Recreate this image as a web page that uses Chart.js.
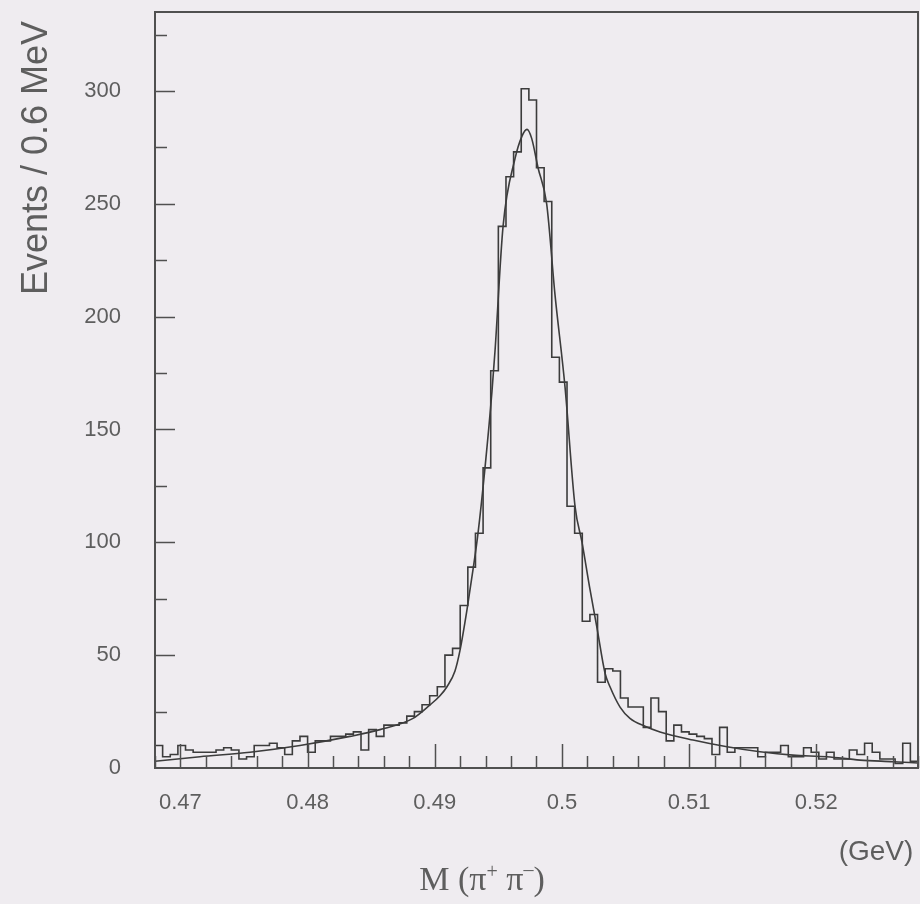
<!DOCTYPE html>
<html>
<head>
<meta charset="utf-8">
<script src="https://cdn.jsdelivr.net/npm/chart.js@4.4.1/dist/chart.umd.min.js"></script>
<style>
  html, body { margin: 0; padding: 0; background: #efecf0; }
  #wrap { width: 920px; height: 904px; position: relative; }
</style>
</head>
<body>
<div id="wrap"><canvas id="chart"></canvas></div>
<script>
// M(pi+ pi-) histogram, 0.6 MeV bins from 0.468 to 0.528 GeV
const binStart = 0.468;
const binWidth = 0.0006;
const counts = [
  10, 5, 6, 10, 8, 7, 7, 7, 8, 9,
  8, 4, 5, 10, 10, 11, 9, 6, 12, 14,
  7, 12, 12, 14, 14, 15, 16, 8, 17, 14,
  19, 19, 20, 23, 25, 28, 32, 36, 50, 53,
  72, 89, 104, 133, 176, 240, 262, 273, 301, 296,
  266, 251, 182, 171, 116, 104, 65, 68, 38, 44,
  43, 31, 27, 27, 18, 31, 25, 12, 19, 16,
  15, 14, 13, 6, 18, 7, 9, 9, 9, 5,
  7, 7, 10, 5, 5, 9, 7, 4, 7, 4,
  4, 8, 6, 11, 7, 4, 4, 2, 11, 3
];

// fitted curve
const fitMass = [
  0.4680, 0.47154, 0.47547, 0.47940, 0.48333, 0.48569, 0.48829, 0.48963,
  0.49041, 0.49096, 0.49159, 0.49198, 0.49253, 0.49301, 0.49340, 0.49395,
  0.49450, 0.49474, 0.49537, 0.49631, 0.49686, 0.49725, 0.49762, 0.49812,
  0.49880, 0.49945, 0.50024, 0.50103, 0.50158, 0.50221, 0.50276, 0.50339,
  0.50378, 0.50457, 0.50535, 0.50653, 0.50771, 0.51031, 0.51298, 0.51558,
  0.51817, 0.52084, 0.52344, 0.52603, 0.52800
];
const fitValue = [
  3, 5, 7, 10, 14, 17, 22, 28,
  32, 36, 43, 52, 70, 88, 104, 133,
  167, 185, 240, 270, 280, 283, 279, 266,
  250, 210, 169, 116, 100, 79, 62, 42,
  36, 27, 22, 18.5, 16, 12.4, 9.4, 7.2,
  5.7, 5, 3.5, 2.8, 2.2
];

const xTicks = [0.47, 0.48, 0.49, 0.50, 0.51, 0.52];
const yTicks = [0, 50, 100, 150, 200, 250, 300];

const xMin = binStart;
const xMax = binStart + counts.length * binWidth;
const yMax = 335;

// histogram as step line over bin edges
const histPoints = counts.map((c, i) => ({ x: binStart + i * binWidth, y: c }));
histPoints.push({ x: xMax, y: counts[counts.length - 1] });

const fitPoints = fitMass.map((m, i) => ({ x: m, y: fitValue[i] }));

const ink = '#3c3c3c';
const textGrey = '#5e5e5e';

// frame, inward ticks and axis titles
const framePlugin = {
  id: 'frame',
  afterDraw(chart) {
    const { ctx, chartArea: a, scales: { x, y } } = chart;
    ctx.save();
    ctx.strokeStyle = '#505050';
    ctx.lineWidth = 2;
    ctx.strokeRect(a.left, a.top, a.right - a.left, a.bottom - a.top);

    ctx.lineWidth = 1.5;
    ctx.beginPath();
    for (let k = 0; k <= 30; k++) {
      const v = xMin + k * 0.002;
      const px = Math.round(x.getPixelForValue(v)) + 0.5;
      const major = xTicks.some(t => Math.abs(t - v) < 1e-6);
      ctx.moveTo(px, a.bottom);
      ctx.lineTo(px, a.bottom - (major ? 24 : 12));
    }
    for (let v = 25; v < yMax; v += 25) {
      const py = Math.round(y.getPixelForValue(v)) + 0.5;
      const major = v % 50 === 0;
      ctx.moveTo(a.left, py);
      ctx.lineTo(a.left + (major ? 20 : 12), py);
    }
    ctx.stroke();

    // y title
    ctx.fillStyle = textGrey;
    ctx.font = '36px "Liberation Sans", Arial, sans-serif';
    ctx.textAlign = 'center';
    ctx.textBaseline = 'middle';
    ctx.save();
    ctx.translate(37, 158);
    ctx.rotate(-Math.PI / 2);
    ctx.fillText('Events / 0.6 MeV', 0, 0);
    ctx.restore();

    // unit
    ctx.font = '28px "Liberation Sans", Arial, sans-serif';
    ctx.fillText('(GeV)', 876, 852);

    // x title M (pi+ pi-)
    const big = '34px "Liberation Serif", "Times New Roman", serif';
    const small = '20px "Liberation Serif", "Times New Roman", serif';
    const parts = [
      ['M (\u03C0', big, 0], ['+', small, -12], [' \u03C0', big, 0], ['\u2013', small, -14], [')', big, 0]
    ];
    let total = 0;
    parts.forEach(p => { ctx.font = p[1]; total += ctx.measureText(p[0]).width; });
    let cx = 482 - total / 2;
    ctx.textAlign = 'left';
    ctx.textBaseline = 'alphabetic';
    parts.forEach(p => {
      ctx.font = p[1];
      ctx.fillText(p[0], cx, 890 + p[2]);
      cx += ctx.measureText(p[0]).width;
    });
    ctx.restore();
  }
};

Chart.defaults.font.family = '"Liberation Sans", Arial, sans-serif';
Chart.defaults.color = textGrey;

new Chart(document.getElementById('chart').getContext('2d'), {
  type: 'line',
  data: {
    datasets: [
      {
        data: histPoints,
        borderColor: ink,
        borderWidth: 1.6,
        stepped: true,
        pointRadius: 0,
        fill: false
      },
      {
        data: fitPoints,
        borderColor: ink,
        borderWidth: 1.6,
        cubicInterpolationMode: 'monotone',
        pointRadius: 0,
        fill: false
      }
    ]
  },
  options: {
    responsive: true,
    maintainAspectRatio: false,
    animation: false,
    layout: { autoPadding: false, padding: { left: 0, right: 2, top: 12, bottom: 0 } },
    plugins: {
      legend: { display: false },
      tooltip: { enabled: false }
    },
    scales: {
      x: {
        type: 'linear',
        min: xMin,
        max: xMax,
        border: { display: false },
        grid: { display: false, drawTicks: false },
        afterBuildTicks: s => { s.ticks = xTicks.map(v => ({ value: v })); },
        afterFit: s => { s.height = 136; s.paddingLeft = 0; s.paddingRight = 0; },
        ticks: {
          padding: 22,
          font: { size: 22 },
          callback: v => String(+v.toFixed(2))
        }
      },
      y: {
        min: 0,
        max: yMax,
        border: { display: false },
        grid: { display: false, drawTicks: false },
        afterBuildTicks: s => { s.ticks = yTicks.map(v => ({ value: v })); },
        afterFit: s => { s.width = 155; s.paddingTop = 0; s.paddingBottom = 0; },
        ticks: {
          padding: 34,
          font: { size: 22 }
        }
      }
    }
  },
  plugins: [framePlugin]
});
</script>
</body>
</html>
